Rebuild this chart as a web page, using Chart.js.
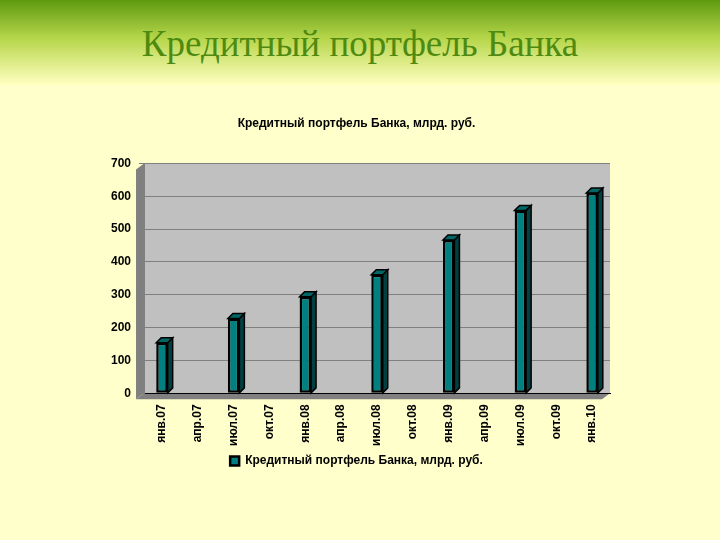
<!DOCTYPE html>
<html><head><meta charset="utf-8">
<script src="https://cdn.jsdelivr.net/npm/chart.js@4/dist/chart.umd.min.js"></script>
<style>
html,body{margin:0;padding:0;width:720px;height:540px;overflow:hidden;background:#ffffcc;}
#hdr{position:absolute;left:0;top:0;width:720px;height:85px;background:linear-gradient(#5e9a10 0%,#b6d64a 45%,#ffffc0 100%);}
#hdr div{position:absolute;left:0;width:720px;top:22px;text-align:center;font-family:"Liberation Serif","DejaVu Serif",serif;font-size:37px;color:#4f8a10;}
#wrap{position:absolute;left:95px;top:112px;width:540px;height:365px;}
</style></head><body>
<div id="hdr"><div>Кредитный портфель Банка</div></div>
<div id="wrap"><canvas id="c"></canvas></div>
<script>
const categories=["янв.07","апр.07","июл.07","окт.07","янв.08","апр.08","июл.08","окт.08","янв.09","апр.09","июл.09","окт.09","янв.10"];
const values=[154,null,228,null,294,null,361,null,467,null,557,null,610];
const yTicks=[0,100,200,300,400,500,600,700];
const seriesName="Кредитный портфель Банка, млрд. руб.";
const three={id:'three',
 beforeDraw(ch){const a=ch.chartArea,c=ch.ctx;c.save();
  c.fillStyle='#c0c0c0';c.fillRect(a.left,a.top,a.right-a.left,a.bottom-a.top);
  c.fillStyle='#808080';c.beginPath();c.moveTo(a.left,a.bottom);c.lineTo(a.left-8,a.bottom+6);c.lineTo(a.right-8,a.bottom+6);c.lineTo(a.right,a.bottom);c.closePath();c.fill();
  c.beginPath();c.moveTo(a.left,a.top);c.lineTo(a.left-8,a.top+6);c.lineTo(a.left-8,a.bottom+6);c.lineTo(a.left,a.bottom);c.closePath();c.fill();
  c.restore();},
 afterDatasetsDraw(ch){const c=ch.ctx;c.save();
  ch.getDatasetMeta(0).data.forEach((b,i)=>{if(values[i]==null)return;const w=b.width,l=b.x-w/2,r=b.x+w/2,d=5;
   c.fillStyle='#004040';c.strokeStyle='#000';c.lineWidth=1.5;
   c.beginPath();c.moveTo(r,b.y);c.lineTo(r+d,b.y-d);c.lineTo(r+d,b.base-d);c.lineTo(r,b.base);c.closePath();c.fill();c.stroke();
   c.fillStyle='#006666';c.beginPath();c.moveTo(l,b.y);c.lineTo(l+d,b.y-d);c.lineTo(r+d,b.y-d);c.lineTo(r,b.y);c.closePath();c.fill();c.stroke();});
  c.restore();}};
new Chart(document.getElementById('c'),{type:'bar',
 data:{labels:categories,datasets:[{label:seriesName,data:values,backgroundColor:'#008080',borderColor:'#000',borderWidth:2.5,borderSkipped:false,barPercentage:0.32,categoryPercentage:1,skipNull:true}]},
 options:{responsive:true,maintainAspectRatio:false,animation:false,
  layout:{padding:{left:8,right:25,top:0,bottom:0}},
  plugins:{title:{display:true,text:seriesName,color:'#000',font:{family:'Liberation Sans',size:12,weight:'bold'},padding:{top:4,bottom:33}},
   legend:{position:'bottom',labels:{color:'#000',boxWidth:9,boxHeight:9,padding:6,font:{family:'Liberation Sans',size:12,weight:'bold'}}},tooltip:{enabled:false}},
  scales:{x:{offset:true,grid:{display:false},border:{color:'#000'},ticks:{color:'#000',maxRotation:90,minRotation:90,autoSkip:false,font:{family:'Liberation Sans',size:12,weight:'bold'}}},
   y:{min:0,max:700,afterBuildTicks(s){s.ticks=yTicks.map(v=>({value:v}));},grid:{color:'#808080',drawTicks:true,tickLength:5},border:{color:'#808080'},ticks:{color:'#000',padding:8,font:{family:'Liberation Sans',size:12,weight:'bold'}}}}},
 plugins:[three]});
</script></body></html>
